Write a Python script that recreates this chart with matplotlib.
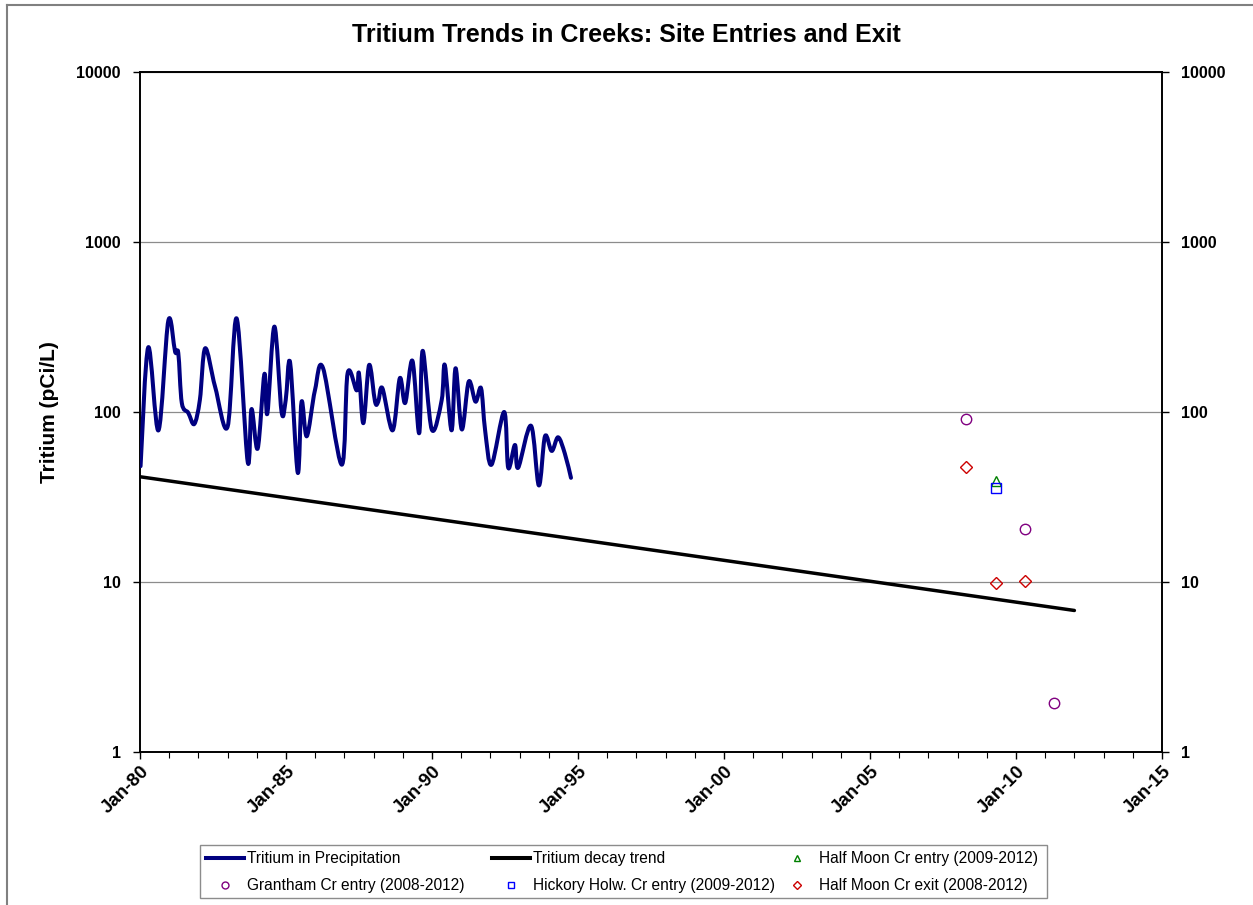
import matplotlib
matplotlib.use("Agg")
import matplotlib.pyplot as plt
import matplotlib.dates as mdates
import numpy as np
import pandas as pd
from matplotlib.lines import Line2D
from matplotlib.patches import PathPatch, Rectangle
from matplotlib.path import Path
from matplotlib.ticker import FixedLocator, FuncFormatter, NullLocator

plt.rcParams["font.family"] = ["Liberation Sans", "DejaVu Sans"]

# tritium in precipitation, pCi/L
precip_dates = [
    "1980-01-08", "1980-04-13", "1980-08-19", "1980-12-20", "1981-03-15",
    "1981-04-24", "1981-06-07", "1981-08-26", "1981-11-10", "1982-01-19",
    "1982-03-26", "1982-07-28", "1983-01-01", "1983-04-24", "1983-09-09",
    "1983-10-27", "1984-01-12", "1984-04-05", "1984-05-12", "1984-08-08",
    "1984-11-06", "1984-12-28", "1985-02-21", "1985-05-27", "1985-07-14",
    "1985-09-17", "1985-12-28", "1986-04-09", "1986-11-28", "1987-02-10",
    "1987-06-03", "1987-07-02", "1987-08-26", "1987-11-06", "1988-01-19",
    "1988-02-28", "1988-04-20", "1988-08-26", "1988-11-24", "1989-01-30",
    "1989-05-01", "1989-07-24", "1989-09-06", "1989-12-28", "1990-05-01",
    "1990-06-10", "1990-09-02", "1990-10-23", "1991-01-08", "1991-04-05",
    "1991-06-29", "1991-09-06", "1991-10-27", "1992-01-15", "1992-06-21",
    "1992-08-11", "1992-11-03", "1992-12-13", "1993-05-23", "1993-08-29",
    "1993-11-14", "1994-02-06", "1994-04-27", "1994-07-20", "1994-10-05",
]
precip_values = [
    48, 240, 78, 344, 226,
    222, 113, 99, 85, 118,
    237, 141, 82, 355, 51,
    104, 61, 167, 98, 318,
    100, 118, 195, 44, 115,
    72, 134, 181, 49, 169,
    134, 169, 86, 189, 115,
    115, 138, 78, 158, 113,
    200, 75, 229, 79, 117,
    189, 78, 181, 79, 151,
    115, 138, 78, 49, 100,
    47, 64, 47, 83, 37,
    72, 59, 71, 57, 41,
]

# decay trend end points
decay_dates = ["1980-01-01", "2012-01-01"]
decay_values = [41.6, 6.8]

# creek samples
grantham_dates = ["2008-04-15", "2010-04-20", "2011-04-20"]
grantham_values = [90.5, 20.4, 1.95]
hickory_dates = ["2009-04-20"]
hickory_values = [35.6]
halfmoon_entry_dates = ["2009-04-20"]
halfmoon_entry_values = [39.3]
halfmoon_exit_dates = ["2008-04-15", "2009-04-20", "2010-04-20"]
halfmoon_exit_values = [47.3, 9.8, 10.2]

year_ticks = list(range(1980, 2016, 5))

W, H = 1253, 905


def to_num(dates):
    return mdates.date2num(pd.to_datetime(dates).to_pydatetime())


def smooth_path(x, y):
    # cubic Bezier through the samples, built in (x, log y) space
    px = np.asarray(x, dtype=float)
    py = np.log10(np.asarray(y, dtype=float))
    n = len(px)
    verts = [(px[0], py[0])]
    codes = [Path.MOVETO]
    for i in range(n - 1):
        a, b = max(i - 1, 0), min(i + 2, n - 1)
        c1 = (px[i] + (px[i + 1] - px[a]) / 6, py[i] + (py[i + 1] - py[a]) / 6)
        c2 = (px[i + 1] - (px[b] - px[i]) / 6, py[i + 1] - (py[b] - py[i]) / 6)
        verts += [c1, c2, (px[i + 1], py[i + 1])]
        codes += [Path.CURVE4] * 3
    verts = [(vx, 10 ** vy) for vx, vy in verts]
    return Path(verts, codes)


fig = plt.figure(figsize=(W / 100, H / 100), dpi=100)
ax = fig.add_axes([140 / W, 1 - 752 / H, 1022 / W, 680 / H])

ax.set_yscale("log")
ax.set_ylim(1, 10000)
ax.set_xlim(to_num(["1980-01-01"])[0], to_num(["2015-01-01"])[0])

navy = "#000080"
ax.add_patch(PathPatch(smooth_path(to_num(precip_dates), precip_values),
                       fill=False, edgecolor=navy, lw=2.9,
                       joinstyle="round", capstyle="round", zorder=3))
ax.plot(to_num(decay_dates), decay_values, color="black", lw=2.5,
        solid_capstyle="round", zorder=3)

mk = dict(linestyle="none", markerfacecolor="none", markeredgewidth=1.0, zorder=4)
ax.plot(to_num(grantham_dates), grantham_values, marker="o", markersize=7.5,
        markeredgecolor="#800080", **mk)
ax.plot(to_num(halfmoon_exit_dates), halfmoon_exit_values, marker="D", markersize=6,
        markeredgecolor="#cc0000", **mk)
ax.plot(to_num(halfmoon_entry_dates), halfmoon_entry_values, marker="^", markersize=7,
        markeredgecolor="#008000", **mk)
ax.plot(to_num(hickory_dates), hickory_values, marker="s", markersize=7,
        markeredgecolor="#0000ff", **mk)

# axes styling
ax.yaxis.set_major_locator(FixedLocator([1, 10, 100, 1000, 10000]))
ax.yaxis.set_minor_locator(NullLocator())
ax.yaxis.set_major_formatter(FuncFormatter(lambda v, _: f"{v:g}"))
ax.grid(axis="y", color="#8c8c8c", lw=0.9)
ax.set_axisbelow(True)
ax.xaxis.set_major_locator(FixedLocator(to_num([f"{y}-01-01" for y in year_ticks])))
ax.xaxis.set_minor_locator(FixedLocator(to_num([f"{y}-01-01" for y in range(1980, 2016)])))
ax.xaxis.set_major_formatter(mdates.DateFormatter("%b-%y"))

for side in ["left", "right", "top", "bottom"]:
    ax.spines[side].set_color("black")
    ax.spines[side].set_linewidth(1.4)

ax.tick_params(axis="y", which="major", direction="out", length=5, width=1,
               right=True, labelright=True, labelsize=11.5, pad=9)
ax.tick_params(axis="x", which="major", direction="out", length=5, width=1,
               labelsize=13.5, pad=3)
ax.tick_params(axis="x", which="minor", direction="out", length=4, width=0.8)
for t in ax.yaxis.get_major_ticks():
    t.label1.set_fontweight("bold")
    t.label2.set_fontweight("bold")
for lab in ax.get_xticklabels():
    lab.set_fontweight("bold")
    lab.set_rotation(45)
    lab.set_ha("right")
    lab.set_rotation_mode("anchor")

ax.set_ylabel("Tritium (pCi/L)", fontsize=15, fontweight="bold", labelpad=12)
fig.text(0.5, 1 - 35 / H, "Tritium Trends in Creeks: Site Entries and Exit",
         ha="center", va="center", fontsize=18, fontweight="bold")

# legend: framed box with three evenly spaced columns
fig.add_artist(Rectangle((200 / W, 1 - 898 / H), 847 / W, 53 / H,
                         transform=fig.transFigure, fill=False,
                         edgecolor="#8c8c8c", lw=1.0))


def marker_handle(marker, color, size):
    return Line2D([], [], linestyle="none", marker=marker, markersize=size,
                  markerfacecolor="none", markeredgecolor=color)


columns = [
    (206, [Line2D([], [], color=navy, lw=2.9), marker_handle("o", "#800080", 5)],
     ["Tritium in Precipitation", "Grantham Cr entry (2008-2012)"]),
    (492, [Line2D([], [], color="black", lw=2.9), marker_handle("s", "#0000ff", 5)],
     ["Tritium decay trend", "Hickory Holw. Cr entry (2009-2012)"]),
    (778, [marker_handle("^", "#008000", 5), marker_handle("D", "#cc0000", 4)],
     ["Half Moon Cr entry (2009-2012)", "Half Moon Cr exit (2008-2012)"]),
]
for x0, hs, ls in columns:
    fig.legend(hs, ls, loc="upper left", bbox_to_anchor=(x0 / W, 1 - 851 / H),
               fontsize=11.2, frameon=False, handlelength=2.45,
               handletextpad=0.2, labelspacing=0.8, borderpad=0.0,
               borderaxespad=0.0)

# outer frame
fig.add_artist(Line2D([7 / W, 1], [1 - 5 / H, 1 - 5 / H], color="#808080", lw=1.5))
fig.add_artist(Line2D([7 / W, 7 / W], [0, 1 - 5 / H], color="#808080", lw=1.5))

fig.savefig("out.png", dpi=100)
